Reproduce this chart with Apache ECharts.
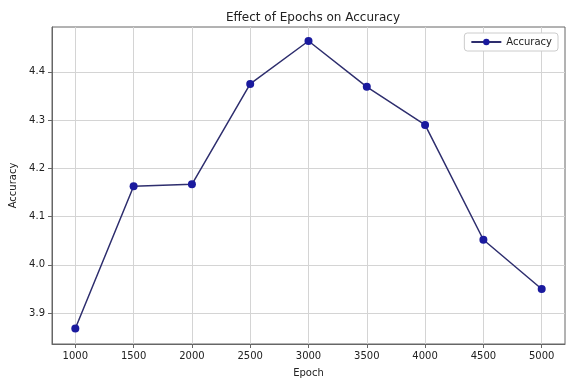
<!DOCTYPE html>
<html>
<head>
<meta charset="utf-8">
<script src="https://cdn.jsdelivr.net/npm/echarts@6/dist/echarts.min.js"></script>
<style>
  html, body { margin: 0; padding: 0; background: #fff; }
  #main { width: 572px; height: 388px; }
</style>
</head>
<body>
<div id="main"></div>
<script>
// data
const epochs = [1000, 1500, 2000, 2500, 3000, 3500, 4000, 4500, 5000];
const accuracy = [3.868, 4.163, 4.167, 4.375, 4.464, 4.369, 4.29, 4.052, 3.95];
const yTicks = [3.9, 4.0, 4.1, 4.2, 4.3, 4.4];

const chart = echarts.init(document.getElementById('main'));

const font = 'DejaVu Sans';

const option = {
  animation: false,
  textStyle: { fontFamily: font },
  title: {
    text: 'Effect of Epochs on Accuracy',
    left: 308,
    textAlign: 'center',
    top: 7,
    textStyle: { fontSize: 12, fontWeight: 'normal', color: '#222', fontFamily: font }
  },
  legend: {
    right: 14,
    top: 33,
    padding: [4, 6],
    borderColor: '#ccc',
    borderWidth: 1,
    borderRadius: 3,
    backgroundColor: '#fff',
    itemWidth: 30,
    itemHeight: 8,
    textStyle: { fontSize: 10, color: '#222', fontFamily: font },
    data: ['Accuracy']
  },
  grid: {
    left: 52, right: 7, top: 27, bottom: 44,
    show: true, borderColor: '#666', borderWidth: 1
  },
  xAxis: {
    type: 'value',
    min: 800,
    max: 5200,
    name: 'Epoch',
    nameLocation: 'middle',
    nameGap: 24,
    nameTextStyle: { fontSize: 10, color: '#222' },
    axisLine: { lineStyle: { color: '#666' } },
    axisTick: { customValues: epochs, length: 4, lineStyle: { color: '#666' } },
    axisLabel: {
      customValues: epochs, fontSize: 10, color: '#222', margin: 7,
      formatter: v => String(v)
    },
    splitLine: { show: true, lineStyle: { color: '#d4d4d4', width: 1 } }
  },
  yAxis: {
    type: 'value',
    min: 3.836,
    max: 4.493,
    name: 'Accuracy',
    nameLocation: 'middle',
    nameGap: 34,
    nameTextStyle: { fontSize: 10, color: '#222' },
    axisLine: { show: true, lineStyle: { color: '#666' } },
    axisTick: { show: true, customValues: yTicks, length: 4, lineStyle: { color: '#666' } },
    axisLabel: {
      customValues: yTicks, fontSize: 10, color: '#222', margin: 7,
      formatter: v => v.toFixed(1)
    },
    splitLine: { show: true, lineStyle: { color: '#d4d4d4', width: 1 } }
  },
  series: [
    {
      name: 'Accuracy',
      type: 'line',
      data: epochs.map((e, i) => [e, accuracy[i]]),
      symbol: 'circle',
      symbolSize: 8,
      lineStyle: { color: '#2e2e6e', width: 1.5 },
      itemStyle: { color: '#1a1a9e' }
    }
  ]
};

chart.setOption(option);
</script>
</body>
</html>
